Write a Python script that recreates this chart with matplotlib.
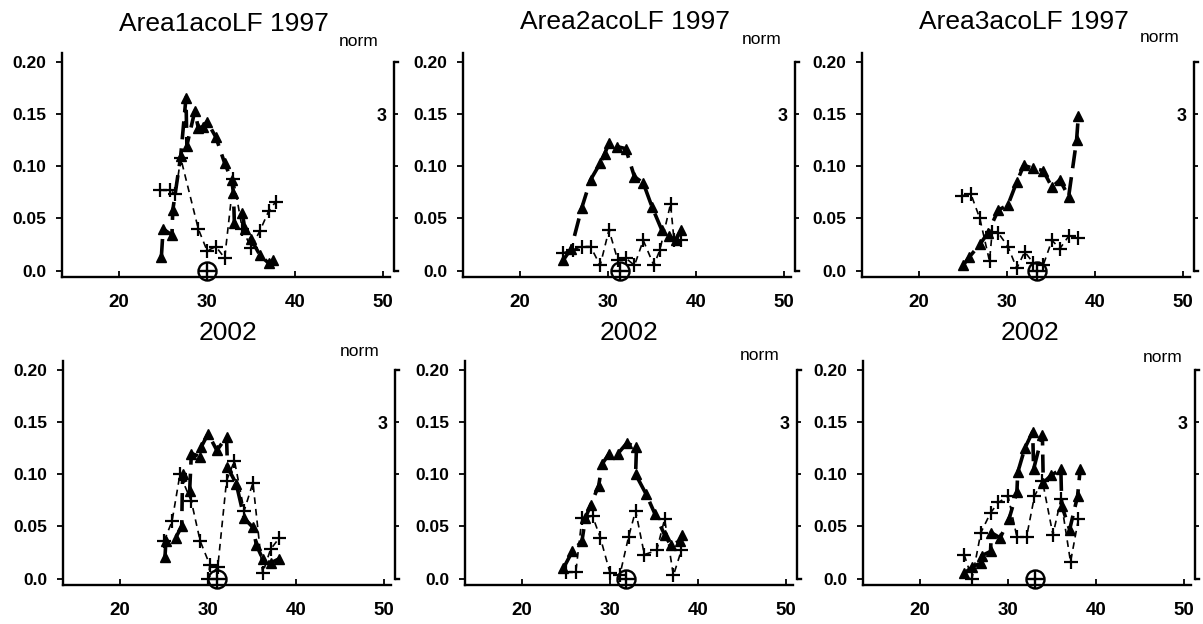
import matplotlib
matplotlib.use("Agg")
import matplotlib.pyplot as plt

W, H = 1203, 624

# ---------------- data ----------------
titles = ["Area1acoLF 1997", "Area2acoLF 1997", "Area3acoLF 1997", "2002", "2002", "2002"]

# Area1 1997
tri_x_a1_97 = [24.8, 25.0, 26.0, 26.1, 27.0, 27.6, 27.7, 28.6, 29.0, 29.5, 30.0, 31.0, 32.0, 32.8, 33.0, 33.1, 34.0, 34.3, 35.0, 36.0, 37.0, 37.5]
tri_y_a1_97 = [0.013, 0.040, 0.034, 0.058, 0.110, 0.166, 0.120, 0.153, 0.137, 0.138, 0.143, 0.128, 0.103, 0.087, 0.074, 0.046, 0.055, 0.040, 0.030, 0.015, 0.007, 0.010]
plus_x_a1_97 = [24.7, 25.8, 26.4, 27.0, 29.0, 30.0, 31.0, 32.0, 33.0, 34.0, 35.0, 36.0, 37.0, 37.8]
plus_y_a1_97 = [0.077, 0.077, 0.073, 0.108, 0.040, 0.019, 0.023, 0.012, 0.088, 0.040, 0.022, 0.038, 0.057, 0.066]
circ_x_a1_97 = 30.0

# Area2 1997
tri_x_a2_97 = [24.9, 25.8, 27.0, 28.0, 29.1, 29.6, 30.1, 31.0, 32.0, 33.0, 34.0, 35.0, 36.1, 36.9, 37.7, 38.3]
tri_y_a2_97 = [0.010, 0.021, 0.060, 0.087, 0.103, 0.112, 0.122, 0.119, 0.117, 0.090, 0.084, 0.061, 0.039, 0.033, 0.029, 0.039]
plus_x_a2_97 = [24.9, 26.0, 27.0, 28.0, 29.1, 30.1, 31.1, 32.0, 33.0, 34.0, 35.2, 35.9, 37.1, 37.5, 38.3]
plus_y_a2_97 = [0.017, 0.020, 0.023, 0.023, 0.005, 0.039, 0.010, 0.012, 0.005, 0.029, 0.005, 0.020, 0.064, 0.029, 0.029]
circ_x_a2_97 = 31.3

# Area3 1997
tri_x_a3_97 = [25.0, 25.7, 26.9, 27.8, 29.0, 30.1, 31.1, 31.9, 33.0, 34.1, 35.1, 36.0, 37.0, 37.9, 38.1]
tri_y_a3_97 = [0.005, 0.013, 0.025, 0.036, 0.058, 0.063, 0.085, 0.101, 0.098, 0.096, 0.080, 0.087, 0.071, 0.125, 0.148]
plus_x_a3_97 = [24.9, 25.9, 26.9, 28.0, 28.3, 29.0, 30.1, 31.1, 32.0, 33.0, 34.1, 35.1, 36.0, 37.0, 38.1]
plus_y_a3_97 = [0.072, 0.073, 0.050, 0.009, 0.037, 0.036, 0.023, 0.002, 0.018, 0.007, 0.005, 0.029, 0.021, 0.033, 0.031]
circ_x_a3_97 = 33.4

# Area1 2002
tri_x_a1_02 = [25.1, 25.2, 26.3, 27.0, 27.1, 27.9, 28.1, 29.1, 29.2, 30.0, 31.0, 32.1, 32.2, 33.2, 34.1, 35.1, 35.5, 36.2, 37.1, 38.1]
tri_y_a1_02 = [0.021, 0.036, 0.039, 0.050, 0.100, 0.084, 0.120, 0.117, 0.126, 0.139, 0.123, 0.136, 0.107, 0.091, 0.058, 0.049, 0.032, 0.019, 0.015, 0.019]
plus_x_a1_02 = [25.0, 25.9, 26.8, 28.1, 29.1, 30.2, 30.0, 31.1, 32.1, 33.0, 34.1, 35.1, 36.2, 37.1, 38.1]
plus_y_a1_02 = [0.036, 0.055, 0.100, 0.074, 0.036, 0.013, 0.000, 0.011, 0.094, 0.113, 0.065, 0.092, 0.005, 0.028, 0.039]
circ_x_a1_02 = 31.0

# Area2 2002
tri_x_a2_02 = [24.7, 25.7, 26.8, 27.2, 27.8, 28.7, 29.1, 29.9, 30.9, 31.9, 33.0, 32.9, 34.1, 35.1, 36.2, 36.9, 37.9, 38.2]
tri_y_a2_02 = [0.010, 0.026, 0.036, 0.058, 0.071, 0.089, 0.110, 0.120, 0.120, 0.130, 0.126, 0.100, 0.081, 0.062, 0.042, 0.032, 0.036, 0.042]
plus_x_a2_02 = [25.0, 26.1, 26.8, 28.0, 28.9, 30.0, 31.1, 32.1, 32.9, 33.9, 35.3, 36.2, 37.2, 38.1]
plus_y_a2_02 = [0.006, 0.006, 0.058, 0.060, 0.039, 0.005, 0.003, 0.040, 0.065, 0.023, 0.027, 0.057, 0.003, 0.027]
circ_x_a2_02 = 31.8

# Area3 2002
tri_x_a3_02 = [25.0, 25.9, 26.9, 27.0, 28.0, 28.1, 29.1, 30.1, 31.0, 31.1, 31.9, 32.8, 32.9, 33.9, 34.0, 34.9, 36.0, 36.1, 37.0, 37.9, 38.2]
tri_y_a3_02 = [0.005, 0.011, 0.015, 0.022, 0.026, 0.044, 0.039, 0.057, 0.083, 0.102, 0.125, 0.141, 0.105, 0.138, 0.092, 0.099, 0.105, 0.070, 0.047, 0.079, 0.105]
plus_x_a3_02 = [25.0, 25.9, 26.9, 28.0, 28.9, 30.0, 31.0, 32.1, 33.0, 33.9, 35.1, 36.0, 37.1, 38.0]
plus_y_a3_02 = [0.023, 0.000, 0.044, 0.063, 0.073, 0.079, 0.040, 0.040, 0.079, 0.094, 0.042, 0.076, 0.016, 0.057]
circ_x_a3_02 = 33.1

panels = [
    (tri_x_a1_97, tri_y_a1_97, plus_x_a1_97, plus_y_a1_97, circ_x_a1_97),
    (tri_x_a2_97, tri_y_a2_97, plus_x_a2_97, plus_y_a2_97, circ_x_a2_97),
    (tri_x_a3_97, tri_y_a3_97, plus_x_a3_97, plus_y_a3_97, circ_x_a3_97),
    (tri_x_a1_02, tri_y_a1_02, plus_x_a1_02, plus_y_a1_02, circ_x_a1_02),
    (tri_x_a2_02, tri_y_a2_02, plus_x_a2_02, plus_y_a2_02, circ_x_a2_02),
    (tri_x_a3_02, tri_y_a3_02, plus_x_a3_02, plus_y_a3_02, circ_x_a3_02),
]

y_ticks = [0.0, 0.05, 0.10, 0.15, 0.20]
y_ticklabels = ["0.0", "0.05", "0.10", "0.15", "0.20"]
x_ticks = [20, 30, 40, 50]
right_ticks = [0.05, 0.10, 0.15]
right_ticklabels = ["", "", "3"]

# ---------------- layout (pixels) ----------------
lefts_px = [[62, 463, 862], [63, 465, 863]]
bottoms_px = [277, 585]
ax_w_px, ax_h_px = 328, 224
title_pos = [[(224, 24), (625, 22), (1024, 22)], [(228, 333), (629, 333), (1030, 333)]]
norm_pos = [[(359, 42), (762, 40), (1160, 38)], [(360, 352), (760, 355), (1163, 358)]]

plt.rcParams['font.family'] = ['Liberation Sans', 'DejaVu Sans']
fig = plt.figure(figsize=(W / 100, H / 100), dpi=100)

xlim = (13.5, 50.8)
ylim = (-0.0062, 0.2088)

for r in range(2):
    for c in range(3):
        tx, ty, px_, py_, cx = panels[r * 3 + c]
        L = lefts_px[r][c]
        B = bottoms_px[r]
        ax = fig.add_axes([L / W, 1 - B / H, ax_w_px / W, ax_h_px / H])
        ax.set_xlim(*xlim)
        ax.set_ylim(*ylim)
        for s in ["top", "right"]:
            ax.spines[s].set_visible(False)
        for s in ["left", "bottom"]:
            ax.spines[s].set_linewidth(1.7)
        ax.set_yticks(y_ticks)
        ax.set_yticklabels(y_ticklabels, fontsize=12.5, fontweight="bold")
        ax.set_xticks(x_ticks)
        ax.set_xticklabels([str(v) for v in x_ticks], fontsize=13.5, fontweight="bold")
        ax.tick_params(axis="y", direction="out", length=4, width=1.3, pad=7)
        ax.tick_params(axis="x", direction="in", length=4, width=1.3, pad=12)

        ax.plot(tx, ty, color="black", lw=2.6, dashes=(5, 2.5), marker="^",
                markersize=7, clip_on=False, zorder=3)
        ax.plot(px_, py_, color="black", lw=1.2, dashes=(4, 3), marker="+",
                markersize=10, markeredgewidth=1.6, clip_on=False, zorder=4)
        ax.plot([cx], [0.0], linestyle="none", marker="o", markersize=13,
                markerfacecolor="none", markeredgecolor="black", markeredgewidth=1.7,
                clip_on=False, zorder=5)
        ax.plot([cx], [0.0], linestyle="none", marker="+", markersize=13,
                markeredgecolor="black", markeredgewidth=1.7, clip_on=False, zorder=5)

        # right bracket axis
        R = L + ax_w_px + 4
        ax2 = fig.add_axes([R / W, 1 - B / H, 10 / W, ax_h_px / H])
        ax2.set_xlim(0, 1)
        ax2.set_ylim(*ylim)
        ax2.patch.set_visible(False)
        for s in ["top", "right", "bottom"]:
            ax2.spines[s].set_visible(False)
        ax2.spines["left"].set_bounds(0.0, 0.2)
        ax2.spines["left"].set_linewidth(1.7)
        ax2.set_xticks([])
        ax2.set_yticks(right_ticks)
        ax2.set_yticklabels(right_ticklabels, fontsize=13, fontweight="bold")
        ax2.tick_params(axis="y", direction="in", length=3, width=1.3, pad=5)
        ax2.axhline(0.2, xmin=0, xmax=0.4, color="black", lw=1.7)
        ax2.axhline(0.0, xmin=0, xmax=0.4, color="black", lw=1.7)

        tpx, tpy = title_pos[r][c]
        fig.text(tpx / W, 1 - tpy / H, titles[r * 3 + c], fontsize=19,
                 ha="center", va="center")
        npx, npy = norm_pos[r][c]
        fig.text(npx / W, 1 - npy / H, "norm", fontsize=12.5, ha="center", va="center")

fig.savefig("out.png", dpi=100)
